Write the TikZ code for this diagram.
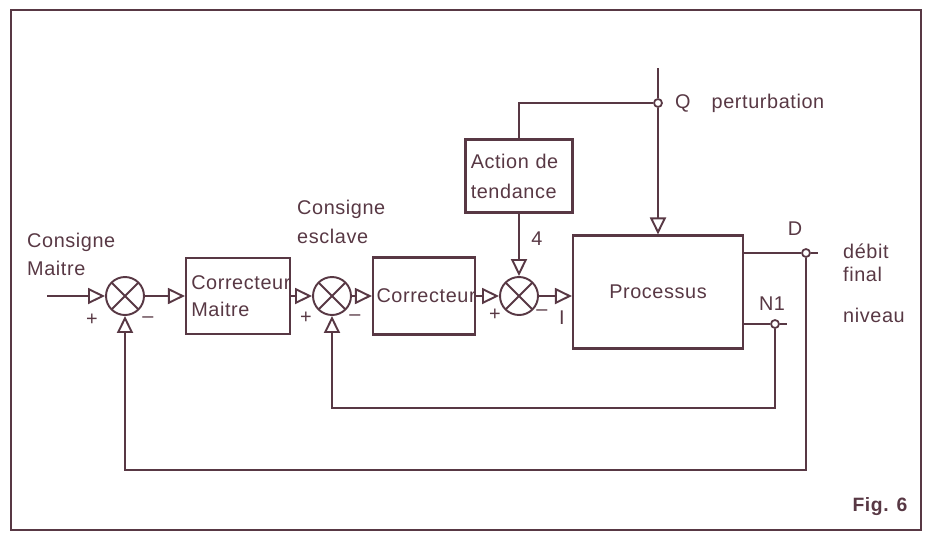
\documentclass[tikz,border=0pt]{standalone}
\usepackage{fontspec}
\setmainfont[LetterSpace=3]{Liberation Sans}
\usetikzlibrary{arrows.meta,positioning}
\definecolor{ink}{RGB}{88,56,68}
\begin{document}
\begin{tikzpicture}[x=0.02cm, y=-0.02cm, color=ink,
  every node/.style={font=\fontsize{11.3}{15.3}\selectfont},
  bloc/.style={draw,line width=1.2pt,inner sep=3pt,align=left},
  somme/.style={circle,draw,line width=1.1pt,minimum size=0.76cm,inner sep=0pt,
    path picture={\draw[line width=1.1pt] (path picture bounding box.north west) -- (path picture bounding box.south east)
      (path picture bounding box.north east) -- (path picture bounding box.south west);}},
  piquage/.style={circle,draw,fill=white,line width=1pt,minimum size=0.16cm,inner sep=0pt},
  sig/.style={line width=1.1pt,-{Triangle[open,length=0.34cm,width=0.32cm]}},
  fil/.style={line width=1.1pt},
  signe/.style={inner sep=1pt}]
\useasboundingbox (0,0) rectangle (927,532);
\draw[line width=1.2pt] (11,10) rectangle (921,530);
\node[somme] (sM) at (125,296) {};
\node[bloc,minimum width=2.08cm,minimum height=1.52cm,text width=1.87cm] (cM) at (238,296) {Correcteur\\Maitre};
\node[somme] (sE) at (332,296) {};
\node[bloc,inner sep=2pt,minimum width=2.04cm,minimum height=1.54cm,text width=1.9cm] (cE) at (424,296) {Correcteur};
\node[somme] (sT) at (519,296) {};
\node[bloc,minimum width=2.14cm,minimum height=1.46cm,text width=1.93cm,font=\fontsize{11.3}{17}\selectfont] (aT) at (519,176) {Action de\\tendance};
\node[bloc,minimum width=3.4cm,minimum height=2.26cm,align=center] (pr) at (658,292) {Processus};
\coordinate (in) at (47,296);
\draw[sig] (in) -- (sM);
\draw[sig] (sM) -- (cM);
\draw[sig] (cM) -- (sE);
\draw[sig] (sE) -- (cE);
\draw[sig] (cE) -- (sT);
\draw[sig] (sT) -- (sT -| pr.west);
\coordinate (qH) at (658,68);
\node[piquage] (Q) at (658,103) {};
\draw[fil] (qH) -- (Q);
\draw[sig] (Q) -- (pr.north);
\draw[fil] (Q) -| (aT.north);
\draw[sig] (aT) -- (sT);
\node[piquage] (D) at (806,253) {};
\coordinate (Dout) at (818,253);
\draw[fil] (pr.east |- D) -- (D) -- (Dout);
\node[piquage] (N) at (775,324) {};
\coordinate (Nout) at (787,324);
\draw[fil] (pr.east |- N) -- (N) -- (Nout);
\coordinate (bE) at (775,408);
\coordinate (bM) at (806,470);
\draw[sig] (N) -- (bE) -| (sE);
\draw[sig] (D) -- (bM) -| (sM);
\node[anchor=west,align=left,font=\fontsize{11.3}{15.9}\selectfont] (tConsM) at (21,254) {Consigne\\Maitre};
\node[signe] (pM) at (92,320) {+};
\node[signe] (mM) at (148,320) {--};
\node[anchor=west,align=left,font=\fontsize{11.3}{16.4}\selectfont] (tConsE) at (291,222) {Consigne\\esclave};
\node[signe] (pE) at (306,318) {+};
\node[signe] (mE) at (355,318) {--};
\node[signe] (pT) at (495,315) {+};
\node[signe] (mT) at (542,313) {--};
\node (tI) at (562,318) {I};
\node (t4) at (537,239) {4};
\node[anchor=west] (tQ) at (669,103) {Q\hspace{12pt}perturbation};
\node (tD) at (795,229) {D};
\node[anchor=west,align=left,font=\fontsize{11.3}{13}\selectfont] (tDeb) at (837,263) {débit\\final};
\node[anchor=west] (tNiv) at (837,315) {niveau};
\node (tN) at (772,304) {N1};
\node[font=\bfseries\fontsize{11}{13}\selectfont] (tFig) at (880,507) {Fig. 6};
\end{tikzpicture}
\end{document}
